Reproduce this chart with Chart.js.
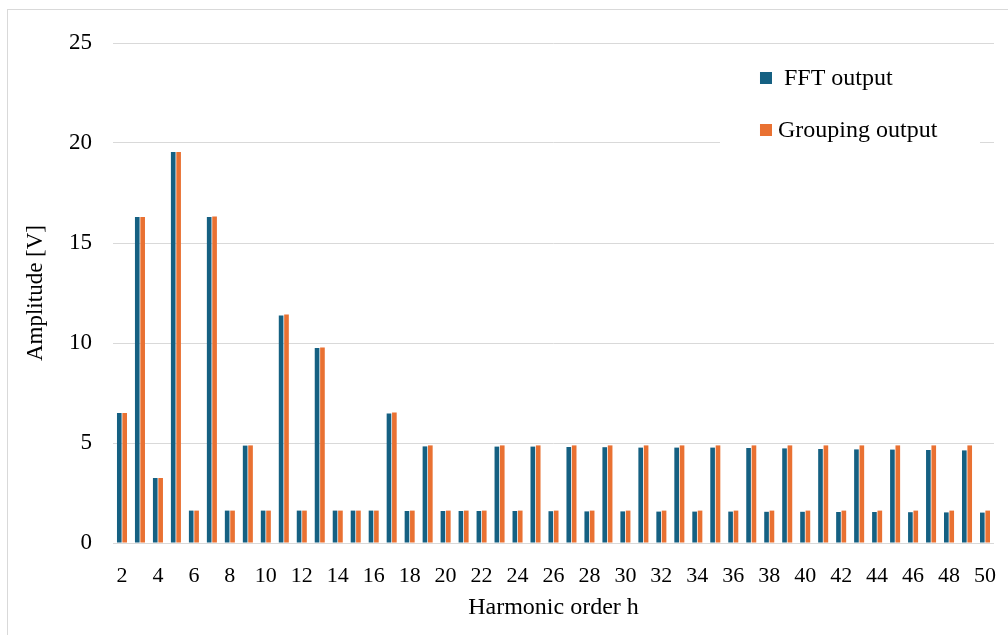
<!DOCTYPE html>
<html>
<head>
<meta charset="utf-8">
<script src="https://cdn.jsdelivr.net/npm/chart.js@4"></script>
<style>
  html, body { margin: 0; padding: 0; background: #fff; }
  #wrap { position: relative; width: 1008px; height: 635px; overflow: hidden; }
  #frame { position: absolute; left: 7px; top: 9px; width: 1010px; height: 640px; border: 1px solid #d9d9d9; box-sizing: border-box; }
  canvas { position: absolute; left: 0; top: 0; }
</style>
</head>
<body>
<div id="wrap">
  <div id="frame"></div>
  <canvas id="chart" width="1008" height="635"></canvas>
</div>
<script>
// Harmonic orders on the category axis
const harmonics = [2, 3, 4, 5, 6, 7, 8, 9, 10, 11, 12, 13, 14, 15, 16, 17, 18, 19, 20, 21, 22, 23, 24, 25, 26,
  27, 28, 29, 30, 31, 32, 33, 34, 35, 36, 37, 38, 39, 40, 41, 42, 43, 44, 45, 46, 47, 48, 49, 50];

// Amplitudes [V] per harmonic
const fftOutput = [6.50, 16.30, 3.25, 19.55, 1.62, 16.30, 1.62, 4.87, 1.62, 11.38, 1.62, 9.75, 1.62, 1.62, 1.62,
  6.47, 1.60, 4.83, 1.60, 1.60, 1.60, 4.82, 1.60, 4.82, 1.59, 4.80, 1.58, 4.79, 1.58, 4.77, 1.57, 4.77, 1.57,
  4.77, 1.57, 4.75, 1.56, 4.73, 1.56, 4.70, 1.55, 4.68, 1.55, 4.67, 1.54, 4.65, 1.53, 4.63, 1.52];
const groupingOutput = [6.50, 16.30, 3.25, 19.55, 1.62, 16.32, 1.62, 4.88, 1.62, 11.42, 1.62, 9.78, 1.62, 1.62, 1.62,
  6.52, 1.62, 4.88, 1.62, 1.62, 1.62, 4.88, 1.62, 4.88, 1.62, 4.88, 1.62, 4.88, 1.62, 4.88, 1.62, 4.88, 1.62,
  4.88, 1.62, 4.88, 1.62, 4.88, 1.62, 4.88, 1.62, 4.88, 1.62, 4.88, 1.62, 4.88, 1.62, 4.88, 1.62];

// Value-axis ticks
const yTicks = [0, 5, 10, 15, 20, 25];

const seriesNames = [' FFT output', 'Grouping output'];
const seriesColors = ['#156082', '#E97132'];

const FONT = 'Liberation Serif';

// Legend drawn inside the plot, on a white box over the gridlines
const insideLegend = {
  id: 'insideLegend',
  afterDraw(chart) {
    const { ctx, chartArea } = chart;
    const x0 = chartArea.right - 234;
    ctx.save();
    ctx.fillStyle = '#fff';
    ctx.fillRect(x0 - 40, chartArea.top + 7, 260, 100);
    chart.data.datasets.forEach((ds, i) => {
      const cy = chartArea.top + 35 + i * 52;
      ctx.fillStyle = ds.backgroundColor;
      ctx.fillRect(x0, cy - 6, 12, 12);
      ctx.fillStyle = '#000';
      ctx.font = '24px "' + FONT + '"';
      ctx.textBaseline = 'middle';
      ctx.textAlign = 'left';
      ctx.fillText(ds.label, x0 + 18, cy + 1);
    });
    ctx.restore();
  }
};

new Chart(document.getElementById('chart'), {
  type: 'bar',
  data: {
    labels: harmonics.map(String),
    datasets: [
      { label: seriesNames[0], data: fftOutput, backgroundColor: seriesColors[0] },
      { label: seriesNames[1], data: groupingOutput, backgroundColor: seriesColors[1] }
    ]
  },
  options: {
    responsive: false,
    animation: false,
    devicePixelRatio: 1,
    layout: { padding: { left: 0, right: 0, top: 43, bottom: 13 } },
    datasets: { bar: { categoryPercentage: 0.6, barPercentage: 0.86 } },
    plugins: { legend: { display: false }, tooltip: { enabled: false } },
    scales: {
      x: {
        grid: { display: false },
        border: { display: true, color: '#d9d9d9', width: 1 },
        ticks: {
          autoSkip: false, maxRotation: 0, minRotation: 0, padding: 12, color: '#000',
          font: { family: FONT, size: 22 },
          callback: (v, i) => (harmonics[i] % 2 === 0 ? String(harmonics[i]) : '')
        },
        title: { display: true, text: 'Harmonic order h', color: '#000', font: { family: FONT, size: 24 }, padding: { top: 0, bottom: 0 } },
        afterFit(scale) { scale.height = 79; }
      },
      y: {
        min: 0, max: 25,
        afterBuildTicks(scale) { scale.ticks = yTicks.map(v => ({ value: v })); },
        grid: { color: '#d9d9d9', drawTicks: false },
        border: { display: false },
        ticks: { padding: 21, color: '#000', font: { family: FONT, size: 23 } },
        title: { display: true, text: 'Amplitude [V]', color: '#000', font: { family: FONT, size: 23 }, padding: { top: 22, bottom: 0 } },
        afterFit(scale) { scale.width = 113; }
      }
    }
  },
  plugins: [insideLegend]
});
</script>
</body>
</html>
